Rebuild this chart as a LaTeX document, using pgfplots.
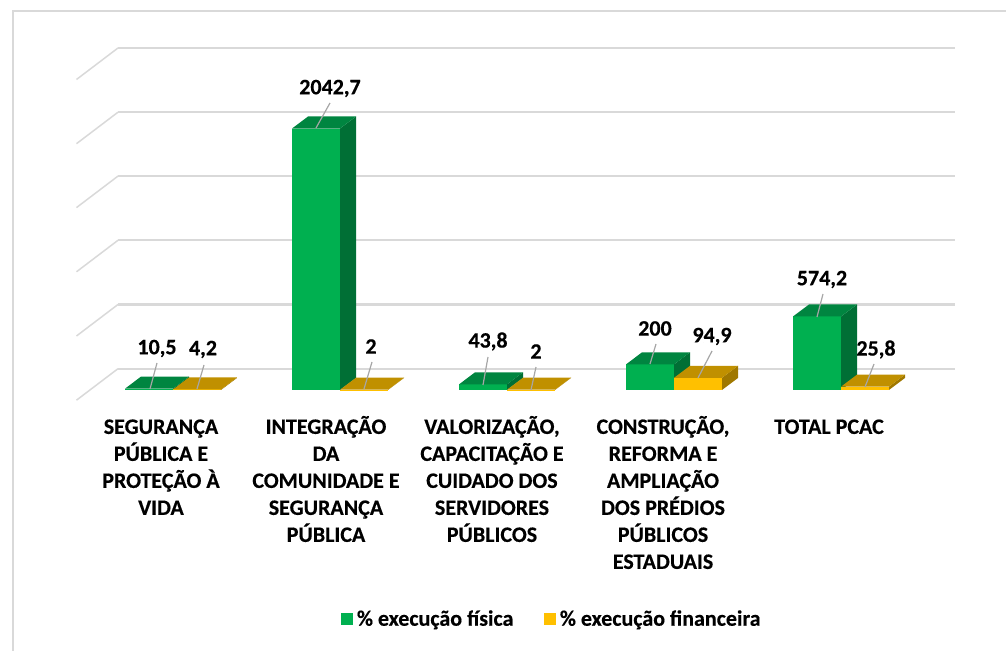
\documentclass[border=0pt]{standalone}
\usepackage{fontspec}
\setmainfont{Carlito}[BoldFeatures={FakeBold=0.4}]
\usepackage{pgfplots}
\pgfplotsset{compat=1.18}

\definecolor{gridc}{HTML}{D9D9D9}
\definecolor{greenF}{HTML}{00B050}
\definecolor{greenT}{HTML}{008540}
\definecolor{greenS}{HTML}{006F35}
\definecolor{goldF}{HTML}{FFC000}
\definecolor{goldT}{HTML}{C09000}
\definecolor{goldS}{HTML}{A07800}

% px -> axis units: 167 px per category, 0.128 px per unit
\newcommand\px[2]{\pgfmathsetmacro#1{((#2)-173)/167}}
\newcommand\py[2]{\pgfmathsetmacro#1{(390-(#2))/0.128}}

% one 3D bar: category, 0 or 1 for the series, value, colour prefix
\newcommand\cube[4]{%
  \pgfmathsetmacro\xa{#1+(#2-1)*0.2874}%
  \pgfmathsetmacro\xb{\xa+0.2874}%
  \pgfmathsetmacro\xc{\xb+0.0958}%
  \pgfmathsetmacro\xd{\xa+0.0958}%
  \pgfmathsetmacro\yt{#3+94}%
  \edef\next{%
    \noexpand\addplot[fill=#4F,draw=none,forget plot] coordinates {(\xa,0)(\xb,0)(\xb,#3)(\xa,#3)} -- cycle;
    \noexpand\addplot[fill=#4S,draw=none,forget plot] coordinates {(\xb,0)(\xc,94)(\xc,\yt)(\xb,#3)} -- cycle;
    \noexpand\addplot[fill=#4T,draw=none,forget plot] coordinates {(\xa,#3)(\xb,#3)(\xc,\yt)(\xd,\yt)} -- cycle;
  }\next}

% wall gridline with its floor-side diagonal, y of the back wall in px
\newcommand\wall[1]{%
  \px\xa{76.5}\px\xb{118}\px\xc{955}%
  \py\ya{#1+31.5}\py\yb{#1}%
  \edef\next{%
    \noexpand\addplot[gridc,line width=1.5pt,forget plot] coordinates {(\xa,\ya)(\xb,\yb)};
    \noexpand\addplot[gridc,line width=2.2pt,forget plot] coordinates {(\xb,\yb)(\xc,\yb)};
  }\next}

% data label with leader line, all in px
\newcommand\lab[7]{%
  \px\xa{#4}\py\ya{#5}\px\xb{#6}\py\yb{#7}%
  \edef\next{%
    \noexpand\addplot[black!35,line width=1.2pt,forget plot] coordinates {(\xa,\ya)(\xb,\yb)};
  }\next
  \node[font=\fontsize{22}{22}\selectfont\bfseries,inner sep=0pt,anchor=center]
    at (axis cs:{(#2-173)/167},{(388.5-#3)/0.128}) {#1};}

% same top for every tick label, accents or not
\newcommand\tl{\rule{0pt}{20pt}}

\begin{document}
\begin{tikzpicture}
\begin{axis}[
    scale only axis,
    width=1007pt,
    height=651pt,
    xmin=-1.035928, xmax=4.994012,
    ymin=-2039.0625, ymax=3046.875,
    axis line style={draw=none},
    tick style={draw=none},
    ytick=\empty,
    xtick={0,0.988,1.982,3.006,4},
    xticklabels={
      {\tl SEGURANÇA\\PÚBLICA E\\PROTEÇÃO À\\VIDA},
      {\tl INTEGRAÇÃO\\DA\\COMUNIDADE E\\SEGURANÇA\\PÚBLICA},
      {\tl VALORIZAÇÃO,\\CAPACITAÇÃO E\\CUIDADO DOS\\SERVIDORES\\PÚBLICOS},
      {\tl CONSTRUÇÃO,\\REFORMA E\\AMPLIAÇÃO\\DOS PRÉDIOS\\PÚBLICOS\\ESTADUAIS},
      {\tl TOTAL PCAC}},
    xticklabel style={
      align=center,
      font=\fontsize{22}{27}\selectfont\bfseries,
      anchor=north,
      xshift=-12pt,
      yshift=237.3pt,
      inner sep=0pt},
    legend columns=2,
    legend style={
      at={(axis description cs:0.5482,0.0495)},
      anchor=center,
      draw=none,
      fill=none,
      inner sep=0pt,
      font=\fontsize{22}{22}\selectfont\bfseries,
      /tikz/every even column/.append style={column sep=29pt}},
    legend image code/.code={\fill[#1] (0pt,-6pt) rectangle (12pt,6pt);\path (13.5pt,0pt);},
]
% chart frame
\addplot[gridc,line width=2pt,forget plot] coordinates {(-0.95808,-2039.0625)(-0.95808,2960.9)(4.988,2960.9)};

\wall{368.7}
\wall{304.5}
\wall{240.3}
\wall{176.1}
\wall{112.2}
\wall{48}

% % execução física, % execução financeira
\cube{0}{0}{10.5}{green}
\cube{0}{1}{4.2}{gold}
\cube{1}{0}{2042.7}{green}
\cube{1}{1}{2}{gold}
\cube{2}{0}{43.8}{green}
\cube{2}{1}{2}{gold}
\cube{3}{0}{200}{green}
\cube{3}{1}{94.9}{gold}
\cube{4}{0}{574.2}{green}
\cube{4}{1}{25.8}{gold}

\lab{10,5}{157}{347}{150}{389}{157}{363}
\lab{4,2}{203}{348}{197}{389}{204}{365}
\lab{2042,7}{330}{87}{316}{128}{330}{103}
\lab{2}{371}{345}{364}{389}{372}{362}
\lab{43,8}{488}{340}{483}{385}{488}{357}
\lab{2}{536}{350}{531}{390}{536}{367}
\lab{200}{655}{327}{650}{364}{656}{344}
\lab{94,9}{712}{335}{698}{378}{712}{351}
\lab{574,2}{822}{278}{817}{317}{823}{294}
\lab{25,8}{876}{348}{865}{387}{874}{364}

\addlegendimage{fill=greenF,draw=none}
\addlegendentry{\% execução física}
\addlegendimage{fill=goldF,draw=none}
\addlegendentry{\% execução financeira}
\end{axis}
\end{tikzpicture}
\end{document}
